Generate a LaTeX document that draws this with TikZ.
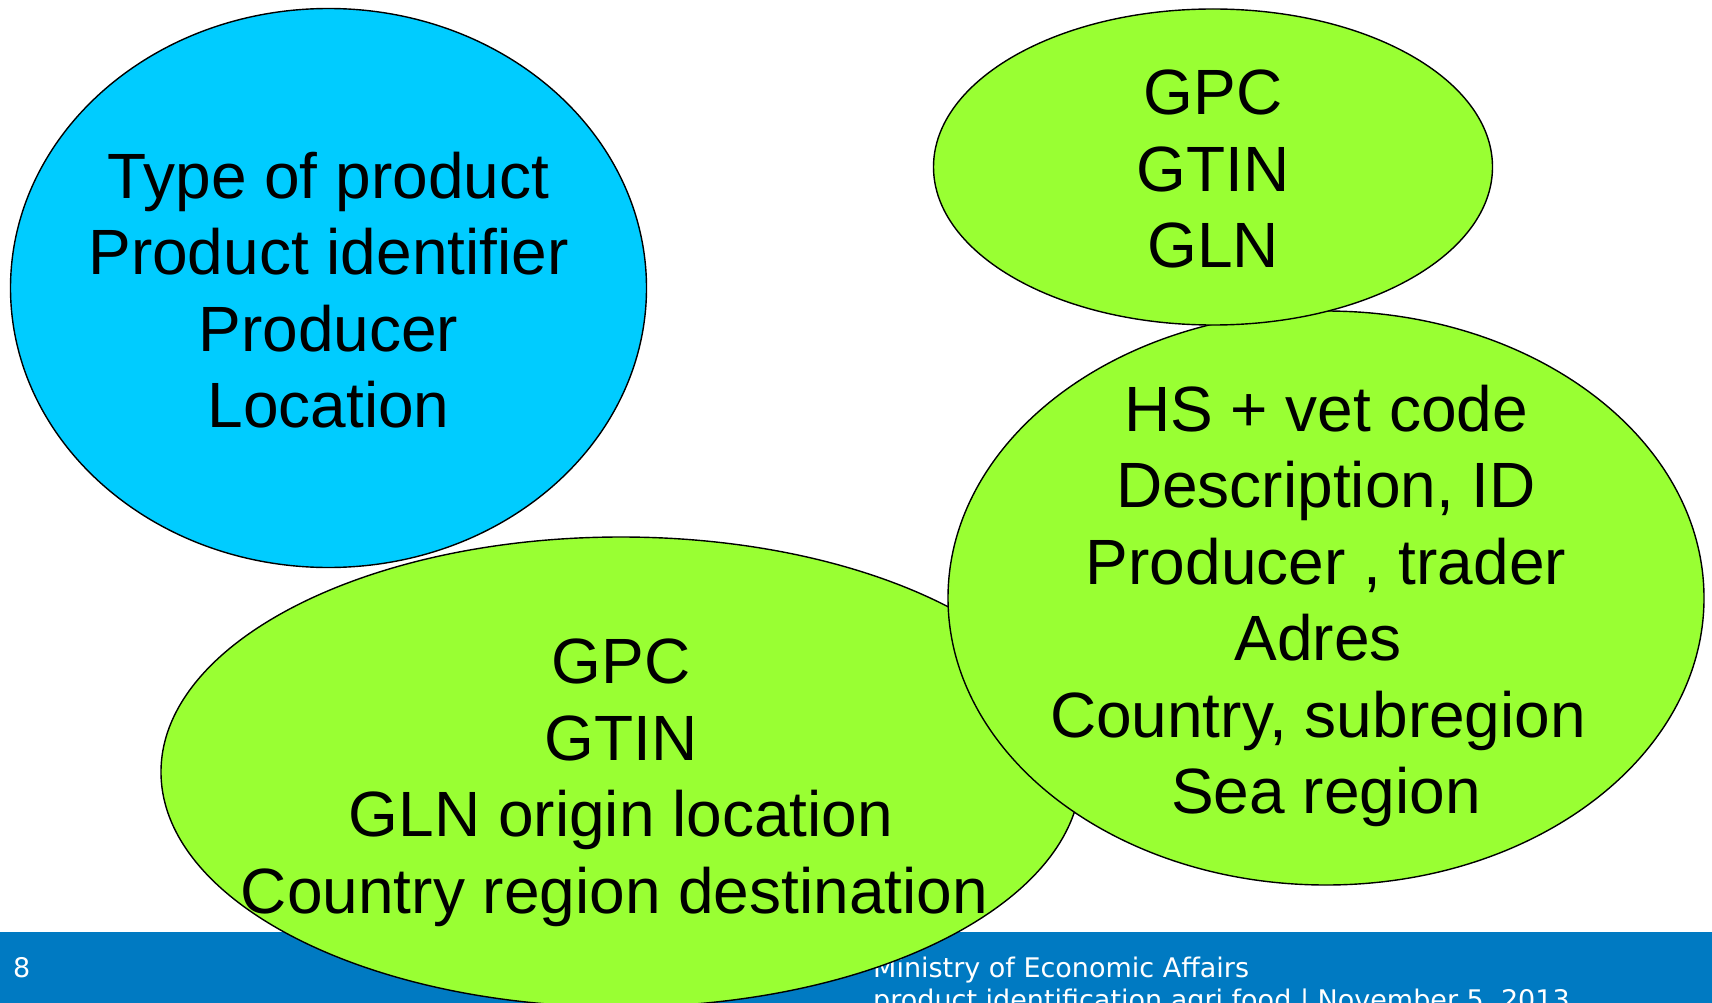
\documentclass[tikz,border=0pt]{standalone}
\usepackage{fontspec}
\setmainfont{Liberation Sans}
\newfontfamily\footfont{DejaVu Sans}
\usetikzlibrary{shapes.geometric}
\definecolor{skyb}{RGB}{0,204,255}
\definecolor{limeg}{RGB}{153,255,51}
\definecolor{barblue}{RGB}{0,122,194}
\tikzset{
  bubble/.style={ellipse, draw=black, line width=1.4pt, inner sep=0pt, outer sep=0pt},
  btext/.style={align=center, inner sep=0pt, font=\fontsize{64}{76.5}\selectfont, text=black},
  foot/.style={font=\footfont\fontsize{27}{31}\selectfont, text=white, inner sep=0pt, anchor=west}
}
\begin{document}
\begin{tikzpicture}[x=1pt,y=-1pt]
\useasboundingbox (0,0) rectangle (1712,1003);
\fill[white] (0,0) rectangle (1712,1003);
\fill[barblue] (0,932) rectangle (1712,1010);
\node[foot] (pg) at (13,968) {8};
\node[foot] (min) at (873,970) {Ministry of Economic Affairs};
\node[foot] (sub) at (873,1002) {product identification agri food \textbar{} November 5, 2013};
\node[bubble, fill=skyb, minimum width=636pt, minimum height=559pt] (blue) at (328.5,288) {};
\node[btext] (bluet) at (328.5,290) {Type of product\\Product identifier\\Producer\\Location};
\node[bubble, fill=limeg, minimum width=920pt, minimum height=470pt] (bot) at (621,772) {};
\node[btext] (bott) at (621,783) {GPC\\GTIN\\GLN origin location\\\hbox{Country region destination\kern13pt}};
\node[bubble, fill=limeg, minimum width=756pt, minimum height=574pt] (right) at (1326,598) {};
\node[btext] (rightt) at (1326,606) {HS + vet code\\Description, ID\\Producer , trader\\\hbox{Adres\kern16pt}\\\hbox{Country, subregion\kern16pt}\\Sea region};
\node[bubble, fill=limeg, minimum width=559pt, minimum height=316pt] (top) at (1213,167) {};
\node[btext] (topt) at (1213,169) {GPC\\GTIN\\GLN};
\end{tikzpicture}
\end{document}
